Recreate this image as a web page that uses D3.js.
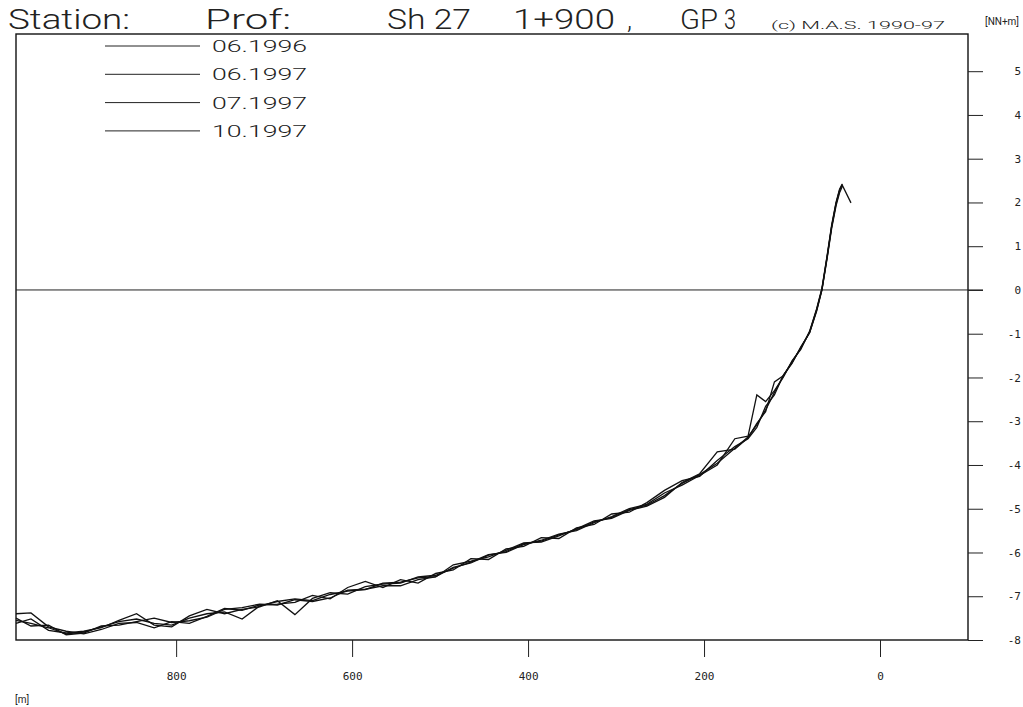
<!DOCTYPE html>
<html>
<head>
<meta charset="utf-8">
<script src="https://cdn.jsdelivr.net/npm/d3@7"></script>
<style>
  body { margin: 0; background: #fff; }
  svg text { font-family: Roboto, "DejaVu Sans", sans-serif; fill: #222; }
</style>
</head>
<body>
<script>
// survey stations along the profile [m]
const stations = [982, 965, 945, 925, 905, 885, 865, 845, 825, 805, 785, 765, 745, 725, 705,
  685, 665, 645, 625, 605, 585, 565, 545, 525, 505, 485, 465, 445, 425, 405, 385, 365, 345,
  325, 305, 285, 265, 245, 225, 205, 185, 165, 150, 140, 130, 120, 110, 100, 90, 80, 72, 66,
  60, 55, 50, 46, 43, 33];

// heights [NN+m] per survey
const h0696 = [-7.55, -7.62, -7.72, -7.86, -7.82, -7.70, -7.58, -7.52, -7.62, -7.66, -7.50, -7.40, -7.36, -7.52, -7.22,
  -7.12, -7.06, -7.10, -6.96, -6.88, -6.85, -6.70, -6.68, -6.58, -6.55, -6.34, -6.24, -6.06, -5.98, -5.80, -5.74, -5.60, -5.48,
  -5.30, -5.20, -5.02, -4.92, -4.70, -4.42, -4.22, -3.96, -3.62, -3.36, -3.08, -2.74, -2.34, -1.97, -1.64, -1.33, -0.96, -0.45, 0.02,
  0.78, 1.45, 1.98, 2.28, 2.40, 1.99];
const h0697 = [-7.40, -7.38, -7.70, -7.80, -7.86, -7.76, -7.62, -7.60, -7.72, -7.58, -7.62, -7.46, -7.28, -7.32, -7.20,
  -7.18, -7.14, -6.98, -7.06, -6.80, -6.66, -6.80, -6.62, -6.70, -6.48, -6.40, -6.14, -6.16, -5.92, -5.86, -5.66, -5.68, -5.44,
  -5.36, -5.12, -5.08, -4.86, -4.58, -4.36, -4.26, -3.90, -3.58, -3.40, -3.14, -2.66, -2.40, -1.95, -1.68, -1.30, -0.98, -0.48, 0.00,
  0.74, 1.40, 1.92, 2.22, 2.36, null];
const h0797 = [-7.62, -7.52, -7.78, -7.84, -7.80, -7.72, -7.55, -7.40, -7.66, -7.70, -7.45, -7.30, -7.40, -7.30, -7.24,
  -7.10, -7.42, -7.05, -6.92, -6.95, -6.78, -6.72, -6.70, -6.56, -6.52, -6.36, -6.22, -6.05, -6.00, -5.82, -5.72, -5.58, -5.50,
  -5.32, -5.18, -5.00, -4.90, -4.64, -4.46, -4.24, -4.00, -3.40, -3.34, -2.40, -2.55, -2.30, -2.00, -1.62, -1.36, -0.94, -0.43, 0.04,
  0.80, 1.48, 2.00, 2.30, 2.42, null];
const h1097 = [-7.50, -7.68, -7.66, -7.88, -7.84, -7.68, -7.66, -7.58, -7.50, -7.60, -7.56, -7.48, -7.30, -7.26, -7.18,
  -7.20, -7.08, -7.12, -7.04, -6.86, -6.84, -6.76, -6.76, -6.62, -6.56, -6.28, -6.20, -6.10, -5.95, -5.78, -5.76, -5.62, -5.46,
  -5.28, -5.22, -5.04, -4.94, -4.74, -4.40, -4.20, -3.70, -3.64, -3.38, -3.05, -2.78, -2.10, -1.96, -1.66, -1.32, -0.97, -0.46, 0.01,
  0.76, 1.44, 1.96, 2.26, null, null];

const surveys = ['06.1996', '06.1997', '07.1997', '10.1997'];
const heights = [h0696, h0697, h0797, h1097];
const yTicks = [5, 4, 3, 2, 1, 0, -1, -2, -3, -4, -5, -6, -7, -8];
const xTicks = [800, 600, 400, 200, 0];

const width = 1023, height = 707;
const margin = { top: 34, right: 55, bottom: 67, left: 16 };

const svg = d3.select('body')
  .append('svg')
    .attr('width', width)
    .attr('height', height);

const x = d3.scaleLinear()
  .domain([982, -100])
  .range([margin.left, width - margin.right]);

const y = d3.scaleLinear()
  .domain([-8, 5.85])
  .range([height - margin.bottom, margin.top]);

// title line, pieces placed like the plotter output
const title = [
  { t: 'Station:', x: 8, w: 122 },
  { t: 'Prof:', x: 205, w: 86 },
  { t: 'Sh 27', x: 387, w: 84 },
  { t: '1+900', x: 513, w: 102 },
  { t: ',', x: 627, w: 5 },
  { t: 'GP', x: 680, w: 38 },
  { t: '3', x: 724, w: 12 }
];
svg.selectAll('text.title')
  .data(title)
  .enter()
  .append('text')
    .attr('class', 'title')
    .attr('x', d => d.x)
    .attr('y', 29)
    .attr('textLength', d => d.w)
    .attr('lengthAdjust', 'spacingAndGlyphs')
    .style('font-size', '27px')
    .style('font-weight', '300')
    .text(d => d.t);

svg.append('text')
  .attr('x', 771)
  .attr('y', 29)
  .attr('textLength', 174)
  .attr('lengthAdjust', 'spacingAndGlyphs')
  .style('font-size', '11px')
  .style('font-weight', '300')
  .text('(c) M.A.S. 1990-97');

svg.append('text')
  .attr('x', 1019)
  .attr('y', 25)
  .attr('text-anchor', 'end')
  .style('font-size', '10px')
  .text('[NN+m]');

// frame
svg.append('rect')
  .attr('x', x(982))
  .attr('y', y(5.85))
  .attr('width', x(-100) - x(982))
  .attr('height', y(-8) - y(5.85))
  .attr('fill', 'none')
  .attr('stroke', '#111')
  .attr('stroke-width', 1.4);

// zero line
svg.append('line')
  .attr('x1', x(982))
  .attr('x2', x(-100) + 15)
  .attr('y1', y(0))
  .attr('y2', y(0))
  .attr('stroke', '#222')
  .attr('stroke-width', 1);

// right axis
const yAxis = svg.append('g')
  .attr('transform', `translate(${x(-100)},0)`)
  .call(d3.axisRight(y).tickValues(yTicks).tickSize(15).tickFormat(d3.format('d')));
yAxis.select('.domain').remove();
yAxis.selectAll('line').attr('stroke', '#222');
yAxis.selectAll('text')
  .attr('x', 53)
  .attr('text-anchor', 'end')
  .style('font-family', '"DejaVu Sans Mono", monospace')
  .style('font-size', '11px')
  .attr('fill', '#222')
  .text(d => d < 0 ? '-' + Math.abs(d) : d);

// bottom axis
const xAxis = svg.append('g')
  .attr('transform', `translate(0,${y(-8)})`)
  .call(d3.axisBottom(x).tickValues(xTicks).tickSize(17).tickPadding(15));
xAxis.select('.domain').remove();
xAxis.selectAll('line').attr('stroke', '#222');
xAxis.selectAll('text')
  .style('font-family', '"DejaVu Sans Mono", monospace')
  .style('font-size', '11px')
  .attr('fill', '#222');

svg.append('text')
  .attr('x', 15)
  .attr('y', 703)
  .style('font-size', '10px')
  .text('[m]');

// profiles
const line = d3.line()
  .defined(d => d[1] !== null)
  .x(d => x(d[0]))
  .y(d => y(d[1]));

svg.selectAll('path.profile')
  .data(heights)
  .enter()
  .append('path')
    .attr('class', 'profile')
    .attr('d', h => line(stations.map((s, i) => [s, h[i]])))
    .attr('fill', 'none')
    .attr('stroke', '#111')
    .attr('stroke-width', 1.3)
    .attr('stroke-linejoin', 'miter');

// legend
const legend = svg.selectAll('g.legend')
  .data(surveys)
  .enter()
  .append('g')
    .attr('class', 'legend')
    .attr('transform', (d, i) => `translate(0,${46 + i * 28.3})`);

legend.append('line')
  .attr('x1', 105)
  .attr('x2', 200)
  .attr('stroke', '#222')
  .attr('stroke-width', 1);

legend.append('text')
  .attr('x', 212)
  .attr('y', 6)
  .attr('textLength', 95)
  .attr('lengthAdjust', 'spacingAndGlyphs')
  .style('font-size', '17px')
  .style('font-weight', '300')
  .text(d => d);
</script>
</body>
</html>
